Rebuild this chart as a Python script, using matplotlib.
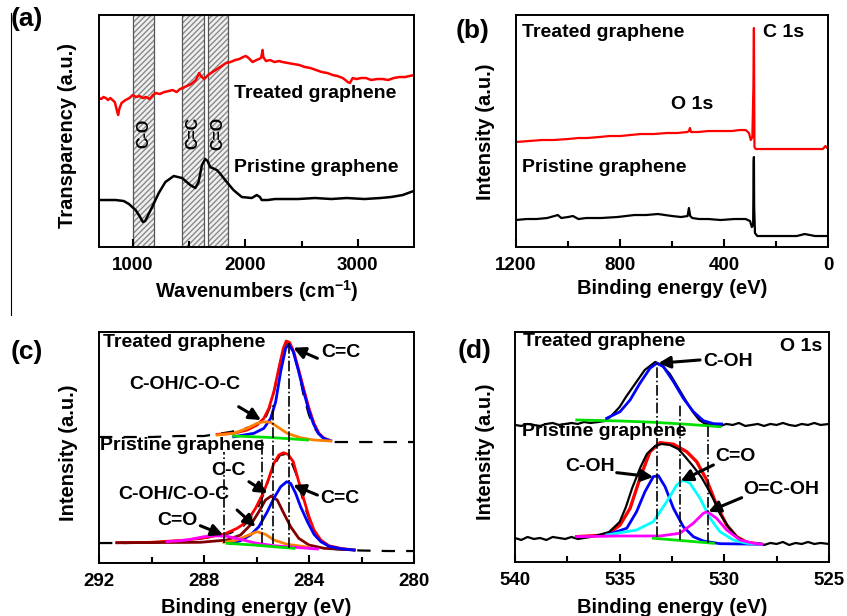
import matplotlib
matplotlib.use("Agg")
import matplotlib.pyplot as plt
from matplotlib.lines import Line2D

plt.rcParams['font.family'] = ['Liberation Sans', 'DejaVu Sans']
plt.rcParams['font.weight'] = 'bold'
plt.rcParams['mathtext.fontset'] = 'custom'
plt.rcParams['mathtext.rm'] = 'Liberation Sans:bold'
plt.rcParams['mathtext.bf'] = 'Liberation Sans:bold'
plt.rcParams['mathtext.default'] = 'bf'

# ---------------- (a) FTIR ----------------
ftir_treated_x = [700, 720, 740, 760, 780, 800, 820, 840, 860, 870, 880, 900, 936, 970, 1000, 1030,
                  1060, 1090, 1117, 1150, 1180, 1205, 1240, 1280, 1320, 1353, 1390, 1420, 1442, 1480,
                  1520, 1561, 1590, 1605, 1635, 1670, 1709, 1750, 1790, 1828, 1870, 1910, 1947, 1980,
                  2006, 2030, 2065, 2100, 2140, 2148, 2154, 2160, 2184, 2220, 2260, 2300, 2332, 2380,
                  2430, 2481, 2530, 2580, 2629, 2680, 2730, 2777, 2820, 2866, 2890, 2911, 2930, 2955,
                  2990, 3030, 3074, 3120, 3170, 3222, 3270, 3320, 3370, 3420, 3460, 3500]
ftir_treated_y = [149, 148, 150, 149, 147, 149, 147, 145, 136, 132, 138, 144, 147, 149, 152, 150,
                  151, 149, 150, 148, 152, 154, 153, 155, 156, 157, 155, 158, 159, 161,
                  163, 167, 174, 171, 168, 172, 175, 178, 181, 184, 185, 187, 188, 190,
                  191, 189, 185, 187, 189, 193, 197, 190, 186, 187, 185, 186, 185, 184,
                  183, 182, 180, 179, 177, 175, 174, 172, 171, 169, 167, 165, 164, 169,
                  168, 169, 169, 167, 168, 168, 167, 169, 170, 170, 171, 172]
ftir_pristine_x = [700, 760, 848, 920, 966, 1025, 1060, 1090, 1110, 1128, 1172, 1231, 1290, 1364,
                   1438, 1511, 1556, 1585, 1615, 1644, 1665, 1688, 1747, 1780, 1821, 1895, 1969,
                   2058, 2102, 2130, 2146, 2200, 2264, 2370, 2470, 2620, 2765, 2900, 3060, 3200,
                   3296, 3400, 3472, 3500]
ftir_pristine_y = [47, 47, 47, 46, 43, 37, 31, 25, 26, 30, 40, 54, 65, 71,
                   69, 62, 59, 65, 82, 88, 86, 80, 77, 73, 67, 57, 50,
                   49, 52, 50, 47, 47, 48, 48, 48, 49, 48, 49, 48, 49,
                   50, 52, 55, 56]
ftir_bands = [(1000, 1190, 'C-O'), (1440, 1630, 'C=C'), (1665, 1850, 'C=O')]

# ---------------- (b) XPS survey ----------------
survey_treated_x = [1200, 1150, 1100, 1056, 1000, 960, 927, 880, 840, 799, 760, 720, 670, 620, 580,
                    541, 535, 531, 527, 500, 460, 413, 370, 340, 317, 304, 297, 291, 287, 285,
                    283, 278, 240, 200, 155, 100, 60, 20, 10, 0]
survey_treated_y = [105, 106, 107, 107, 108, 109, 109, 110, 111, 111, 112, 113, 113, 114, 114,
                    115, 116, 119, 115, 115, 116, 116, 116, 117, 117, 114, 107, 110, 160, 219,
                    100, 98, 98, 98, 98, 98, 98, 98, 101, 98]
survey_pristine_x = [1200, 1160, 1121, 1080, 1039, 1026, 1000, 981, 960, 930, 873, 810, 745, 700,
                     654, 600, 565, 540, 535, 530, 522, 496, 460, 413, 360, 317, 300, 293, 288,
                     286, 285, 284, 281, 272, 220, 155, 120, 90, 50, 0]
survey_pristine_y = [27, 28, 28, 29, 32, 29, 30, 31, 28, 29, 29, 30, 32, 32,
                     33, 31, 30, 31, 39, 31, 29, 28, 28, 27, 28, 28, 26, 20, 22,
                     85, 90, 40, 14, 11, 11, 11, 11, 13, 11, 11]

# ---------------- (c) C 1s ----------------
c1s_t_raw_x = [292, 291, 290, 289, 288, 287.5, 287, 286.5, 286, 285.7, 285.5, 285.3, 285.1,
               284.95, 284.85, 284.75, 284.6, 284.4, 284.2, 284.0, 283.8, 283.5, 283.2, 283, 282, 281, 280]
c1s_t_raw_y = [126, 126, 126, 127, 127, 129, 131, 134, 138, 143, 155, 175, 200,
               215, 221, 220, 211, 193, 167, 148, 135, 126, 122, 121, 121, 121, 121]
c1s_t_env_x = [287.50, 286.87, 286.36, 285.98, 285.72, 285.53, 285.34, 285.15, 284.98, 284.87,
               284.74, 284.58, 284.39, 284.19, 284.00, 283.81, 283.62, 283.42, 283.24]
c1s_t_env_y = [128.7, 129.7, 133, 138, 144.7, 154.7, 171.3, 194.7, 214.7, 222,
               220.7, 211.3, 193, 173, 154.7, 139.7, 129.7, 124.7, 123]
c1s_t_cc_x = [286.87, 286.10, 285.72, 285.46, 285.27, 285.08, 284.89, 284.77, 284.60, 284.41,
              284.22, 284.03, 283.84, 283.65, 283.45, 283.17]
c1s_t_cc_y = [126.3, 129.7, 134.7, 144.7, 161.3, 191.3, 214.7, 218.7, 211.3, 193,
              173, 154.7, 139.7, 129.7, 124.7, 122.3]
c1s_t_coh_x = [287.50, 286.87, 286.36, 285.98, 285.72, 285.46, 285.21, 284.83, 284.32, 283.81, 283.17]
c1s_t_coh_y = [128, 129.7, 134.7, 139.7, 141.3, 140.7, 136.3, 129.7, 125.3, 123, 122]
c1s_t_bg_x = [286.87, 285.59, 284.58, 284.06]
c1s_t_bg_y = [127, 125.7, 124, 123]

c1s_p_raw_x = [292, 291, 290, 289, 288.5, 288, 287.5, 287, 286.5, 286, 285.7, 285.4, 285.1, 284.9,
               284.7, 284.5, 284.3, 284.1, 283.9, 283.6, 283.3, 283, 282.5, 282, 281, 280]
c1s_p_raw_y = [20, 20, 20.5, 21.5, 23, 25, 27, 30, 37, 52, 71, 95, 108, 109,
               103, 90, 70, 52, 37, 24, 17, 14, 13, 12.5, 12, 12]
c1s_p_env_x = [291.32, 290.05, 288.65, 287.89, 287.25, 286.74, 286.36, 286.04, 285.72, 285.53,
               285.34, 285.15, 284.98, 284.80, 284.60, 284.39, 284.19, 284.00, 283.81, 283.55,
               283.24, 282.79, 282.28]
c1s_p_env_y = [20.3, 20.7, 23, 25.7, 28.7, 34.7, 41.3, 54.7, 71.3, 84.7,
               99.7, 108, 110.3, 108.7, 101.3, 81.3, 63, 46.3, 33, 23,
               17.3, 14.7, 13]
c1s_p_cc_x = [287.0, 286.61, 286.23, 285.91, 285.59, 285.34, 285.08, 284.85, 284.70, 284.51,
              284.32, 284.06, 283.81, 283.55, 283.24, 282.79, 282.28]
c1s_p_cc_y = [19.7, 22.3, 28, 36.3, 51.3, 64.7, 76.3, 81.3, 79.7, 69.7,
              56.3, 41.3, 28.7, 21.3, 16.7, 14.3, 13]
c1s_p_c_c_x = [291.32, 288.14, 287.12, 286.61, 286.23, 285.91, 285.66, 285.44, 285.21, 284.96,
               284.70, 284.39, 284.00, 283.42, 282.28]
c1s_p_c_c_y = [20.3, 20.7, 23, 28, 38, 51.3, 63, 67, 63, 49.7,
               36.3, 24.7, 18, 14.7, 13]
c1s_p_coh_x = [287.25, 286.74, 286.30, 285.98, 285.66, 285.34, 284.83, 284.06]
c1s_p_coh_y = [20.7, 23, 28, 31.3, 28.7, 23, 18.7, 16]
c1s_p_co_x = [289.41, 288.65, 288.01, 287.63, 287.12, 286.61, 286.10, 285.34, 284.32, 283.68]
c1s_p_co_y = [21.3, 23, 26.3, 27.3, 26.7, 23.7, 20.3, 17.3, 15.3, 14]
c1s_p_bg_x = [287.12, 286.10, 285.21, 284.58]
c1s_p_bg_y = [19.7, 18, 16, 14.7]
c1s_marks = [(284.77, 219.7, 14.7), (285.37, 158, 18.7), (285.79, 126, 19.7), (287.25, 111, 20)]

# ---------------- (d) O 1s ----------------
o1s_t_raw_x = [540, 539.7, 539.4, 539.1, 538.8, 538.5, 538.2, 537.9, 537.6, 537.3, 537, 536.7, 536.4,
               536, 535.7, 535.4, 535, 534.7, 534.2, 533.8, 533.3, 533.0, 532.6, 532.2, 531.8,
               531.5, 531.2, 530.9, 530.5, 530.2, 529.9, 529.6, 529.3, 529, 528.7, 528.4, 528.1,
               527.8, 527.5, 527.2, 526.9, 526.6, 526.3, 526, 525.7, 525.4, 525]
o1s_t_raw_y = [137, 136, 138, 137, 136, 138, 139, 137, 138, 139, 138, 140, 139,
               140, 141, 146, 155, 165, 180, 192, 200, 197, 188, 174, 160,
               150, 142, 138, 137, 136, 138, 137, 139, 136, 137, 138, 136,
               138, 137, 139, 137, 136, 138, 137, 139, 137, 138]
o1s_t_fit_x = [535.62, 534.98, 534.50, 534.03, 533.55, 533.23, 532.91, 532.43, 531.96, 531.48,
               531.00, 530.52, 530.13]
o1s_t_fit_y = [143.7, 150.3, 162, 178.7, 193.7, 198.7, 195.3, 180.3, 163.7, 150.3,
               141.3, 138.3, 138]
o1s_t_bg_x = [537.05, 534.98, 533.39, 531.80, 530.21]
o1s_t_bg_y = [142, 141, 139.7, 137.7, 135.3]

o1s_p_raw_x = [540, 539.7, 539.4, 539.1, 538.8, 538.5, 538.2, 537.9, 537.6, 537.3, 537, 536.7,
               536.4, 536, 535.5, 535, 534.7, 534.4, 534, 533.7, 533.3, 533.0, 532.6, 532.2,
               531.9, 531.5, 531.1, 530.8, 530.5, 530.2, 529.8, 529.4, 529, 528.7, 528.4, 528.1,
               527.8, 527.5, 527.2, 526.9, 526.6, 526.3, 526, 525.7, 525.4, 525]
o1s_p_raw_y = [24, 22, 25, 23, 24, 22, 25, 24, 23, 25, 23, 24,
               25, 27, 30, 40, 55, 74, 95, 108, 116, 118, 117, 113,
               106, 96, 85, 74, 62, 48, 35, 25, 20, 18, 19, 17,
               19, 18, 20, 17, 19, 18, 20, 18, 19, 18]
o1s_p_env_x = [537.05, 535.62, 534.98, 534.50, 534.03, 533.55, 533.07, 532.43, 531.80, 531.32,
               530.84, 530.37, 529.89, 529.41, 528.93, 528.21]
o1s_p_env_y = [25.3, 27, 37, 53.7, 83.7, 110.3, 119.3, 117.7, 110.3, 100.3,
               82, 57, 37, 25.3, 19.7, 17.7]
o1s_p_coh_x = [535.62, 534.66, 534.19, 533.79, 533.39, 533.15, 532.83, 532.43, 531.96, 531.48,
               531.00, 530.21, 528.21]
o1s_p_coh_y = [27, 33.7, 50.3, 70.3, 85.3, 86.3, 75.3, 53.7, 35.3, 25.3, 21, 18.3, 17.7]
o1s_p_co_x = [535.62, 534.19, 533.39, 532.75, 532.27, 531.96, 531.64, 531.16, 530.68, 530.21,
              529.57, 528.93, 528.21]
o1s_p_co_y = [27, 32, 40.3, 60.3, 77, 82, 78.7, 63.7, 43.7, 30.3, 22, 18.7, 17.7]
o1s_p_ococ_x = [537.05, 534.98, 533.07, 532.12, 531.48, 531.00, 530.81, 530.37, 529.89, 529.25,
                528.61, 528.21]
o1s_p_ococ_y = [25.3, 26, 26, 28.7, 38.7, 48.7, 50.3, 43.7, 32, 22, 18.7, 17.7]
o1s_p_bg_x = [533.39, 531.80, 530.52]
o1s_p_bg_y = [23.7, 21, 18.7]
o1s_marks = [(533.23, 200, 25), (532.12, 158.7, 22), (530.76, 136.3, 18.7)]

RED = '#ff0000'
BLUE = '#0000ff'
ORANGE = '#ff8000'
GREEN = '#00e000'
MAGENTA = '#ff00ff'
CYAN = '#00ffff'
BROWN = '#800000'
FS = 14

fig = plt.figure(figsize=(8.47, 6.16), dpi=100)
ax_a = fig.add_axes([0.1169, 0.599, 0.3719, 0.3766])
ax_b = fig.add_axes([0.6092, 0.599, 0.3684, 0.3766])
ax_c = fig.add_axes([0.1169, 0.086, 0.3719, 0.375])
ax_d = fig.add_axes([0.608, 0.0877, 0.3707, 0.3734])


def style(ax, xlim, ylim, major, minor, xlabel, ylabel, xl, yl):
    ax.set_xlim(*xlim)
    ax.set_ylim(*ylim)
    ax.set_xticks(major)
    ax.set_xticks(minor, minor=True)
    ax.set_yticks([])
    ax.tick_params(axis='x', which='major', direction='in', length=6, width=1.5,
                   labelsize=13.5, pad=7)
    ax.tick_params(axis='x', which='minor', direction='in', length=4, width=1.5)
    for lab in ax.get_xticklabels():
        lab.set_fontweight('bold')
    for sp in ax.spines.values():
        sp.set_linewidth(1.4)
    ax.set_xlabel(xlabel, fontsize=FS + 0.5, fontweight='bold')
    ax.set_ylabel(ylabel, fontsize=FS + 0.5, fontweight='bold')
    ax.xaxis.set_label_coords(*xl)
    ax.yaxis.set_label_coords(*yl)


def arrow(ax, head, tail):
    ax.annotate('', xy=head, xytext=tail,
                arrowprops=dict(arrowstyle='-|>,head_length=0.7,head_width=0.35',
                                lw=2.2, color='black', shrinkA=0, shrinkB=0))


# (a)
for lo, hi, name in ftir_bands:
    ax_a.axvspan(lo, hi, facecolor='#f0f0f0', edgecolor='#8a8a8a', hatch='//////', lw=0)
    ax_a.axvspan(lo, hi, fill=False, edgecolor='#555555', lw=0.9)
    ax_a.text((lo + hi) / 2, 114, name, rotation=90, ha='center', va='center',
              fontsize=11.5, fontweight='bold')
ax_a.plot(ftir_treated_x, ftir_treated_y, color=RED, lw=1.8)
ax_a.plot(ftir_pristine_x, ftir_pristine_y, color='black', lw=1.8)
ax_a.text(1903, 154, 'Treated graphene', fontsize=FS, va='center')
ax_a.text(1903, 80, 'Pristine graphene', fontsize=FS, va='center')
style(ax_a, (700, 3500), (0, 232), [1000, 2000, 3000], [1500, 2500],
      'Wavenumbers (cm$^{-1}$)', 'Transparency (a.u.)', (0.5, -0.135), (-0.07, 0.48))

# (b)
ax_b.plot(survey_treated_x, survey_treated_y, color=RED, lw=1.6)
ax_b.plot(survey_pristine_x, survey_pristine_y, color='black', lw=1.6)
ax_b.text(1177, 215, 'Treated graphene', fontsize=FS, va='center')
ax_b.text(251, 215, 'C 1s', fontsize=FS, va='center')
ax_b.text(521, 143, 'O 1s', fontsize=FS, va='center', ha='center')
ax_b.text(1177, 80, 'Pristine graphene', fontsize=FS, va='center')
style(ax_b, (1200, 0), (0, 232), [1200, 800, 400, 0], [1000, 600, 200],
      'Binding energy (eV)', 'Intensity (a.u.)', (0.499, -0.14), (-0.067, 0.496))

# (c)
dash = (0, (6, 5))
ax_c.plot(c1s_t_raw_x, c1s_t_raw_y, color='black', lw=1.6, ls=dash)
ax_c.plot(c1s_t_env_x, c1s_t_env_y, color=RED, lw=2)
ax_c.plot(c1s_t_cc_x, c1s_t_cc_y, color=BLUE, lw=2)
ax_c.plot(c1s_t_coh_x, c1s_t_coh_y, color=ORANGE, lw=2)
ax_c.plot(c1s_t_bg_x, c1s_t_bg_y, color=GREEN, lw=2)
ax_c.plot(c1s_p_raw_x, c1s_p_raw_y, color='black', lw=1.6, ls=dash)
ax_c.plot(c1s_p_env_x, c1s_p_env_y, color=RED, lw=2)
ax_c.plot(c1s_p_c_c_x, c1s_p_c_c_y, color=BROWN, lw=2)
ax_c.plot(c1s_p_cc_x, c1s_p_cc_y, color=BLUE, lw=2)
ax_c.plot(c1s_p_coh_x, c1s_p_coh_y, color=ORANGE, lw=2)
ax_c.plot(c1s_p_co_x, c1s_p_co_y, color=MAGENTA, lw=2)
ax_c.plot(c1s_p_bg_x, c1s_p_bg_y, color=GREEN, lw=2)
for x, top, bot in c1s_marks:
    ax_c.plot([x, x], [bot, top], color='black', lw=1.2, ls='-.')
ax_c.text(291.85, 221, 'Treated graphene', fontsize=FS, va='center')
ax_c.text(291.96, 118, 'Pristine graphene', fontsize=FS, va='center')
ax_c.text(283.55, 210.7, 'C=C', fontsize=FS, va='center')
arrow(ax_c, (284.60, 215.3), (283.68, 204.7))
ax_c.text(288.75, 179, 'C-OH/C-O-C', fontsize=FS, va='center', ha='center')
arrow(ax_c, (285.83, 143), (286.68, 156.3))
ax_c.text(283.58, 64.7, 'C=C', fontsize=FS, va='center')
arrow(ax_c, (284.60, 78), (283.68, 68))
ax_c.text(287.06, 92.3, 'C-C', fontsize=FS, va='center', ha='center')
arrow(ax_c, (285.59, 69.7), (286.29, 81.3))
ax_c.text(289.16, 68.7, 'C-OH/C-O-C', fontsize=FS, va='center', ha='center')
arrow(ax_c, (286.04, 36.3), (286.74, 53))
ax_c.text(289.03, 43, 'C=O', fontsize=FS, va='center', ha='center')
arrow(ax_c, (287.27, 28), (288.14, 37.3))
style(ax_c, (292, 280), (0, 231), [292, 288, 284, 280], [290, 286, 282],
      'Binding energy (eV)', 'Intensity (a.u.)', (0.5, -0.15), (-0.067, 0.476))

# (d)
ax_d.plot(o1s_t_raw_x, o1s_t_raw_y, color='black', lw=1.6)
ax_d.plot(o1s_t_bg_x, o1s_t_bg_y, color=GREEN, lw=2)
ax_d.plot(o1s_t_fit_x, o1s_t_fit_y, color=BLUE, lw=2)
ax_d.plot(o1s_p_env_x, o1s_p_env_y, color=RED, lw=2.4)
ax_d.plot(o1s_p_raw_x, o1s_p_raw_y, color='black', lw=1.6)
ax_d.plot(o1s_p_coh_x, o1s_p_coh_y, color=BLUE, lw=2)
ax_d.plot(o1s_p_co_x, o1s_p_co_y, color=CYAN, lw=2)
ax_d.plot(o1s_p_ococ_x, o1s_p_ococ_y, color=MAGENTA, lw=2)
ax_d.plot(o1s_p_bg_x, o1s_p_bg_y, color=GREEN, lw=2)
for x, top, bot in o1s_marks:
    ax_d.plot([x, x], [bot, top], color='black', lw=1.2, ls='-.')
ax_d.text(539.62, 220, 'Treated graphene', fontsize=FS, va='center')
ax_d.text(525.33, 215, 'O 1s', fontsize=FS, va='center', ha='right')
ax_d.text(531.02, 200, 'C-OH', fontsize=FS, va='center')
arrow(ax_d, (533.15, 198.7), (531.16, 202))
ax_d.text(539.67, 130, 'Pristine graphene', fontsize=FS, va='center')
ax_d.text(536.42, 95, 'C-OH', fontsize=FS, va='center', ha='center')
arrow(ax_d, (533.39, 85), (535.14, 89.3))
ax_d.text(529.49, 105, 'C=O', fontsize=FS, va='center', ha='center')
arrow(ax_d, (532.08, 81), (530.52, 97))
ax_d.text(527.26, 72, 'O=C-OH', fontsize=FS, va='center', ha='center')
arrow(ax_d, (530.76, 50.3), (529.17, 64.3))
style(ax_d, (540, 525), (0, 230), [540, 535, 530, 525], [537.5, 532.5, 527.5],
      'Binding energy (eV)', 'Intensity (a.u.)', (0.5, -0.155), (-0.064, 0.478))

# panel letters
for px, py, lab in [(27, 19, '(a)'), (473, 31, '(b)'), (27, 352, '(c)'), (475, 351, '(d)')]:
    fig.text(px / 847, 1 - py / 616, lab, fontsize=19, fontweight='bold',
             ha='center', va='center')

# thin vertical rule at the left edge of the original
fig.add_artist(Line2D([11 / 847, 11 / 847], [1 - 13 / 616, 1 - 315 / 616], color='black', lw=0.8))

fig.savefig('out.png', dpi=100)
